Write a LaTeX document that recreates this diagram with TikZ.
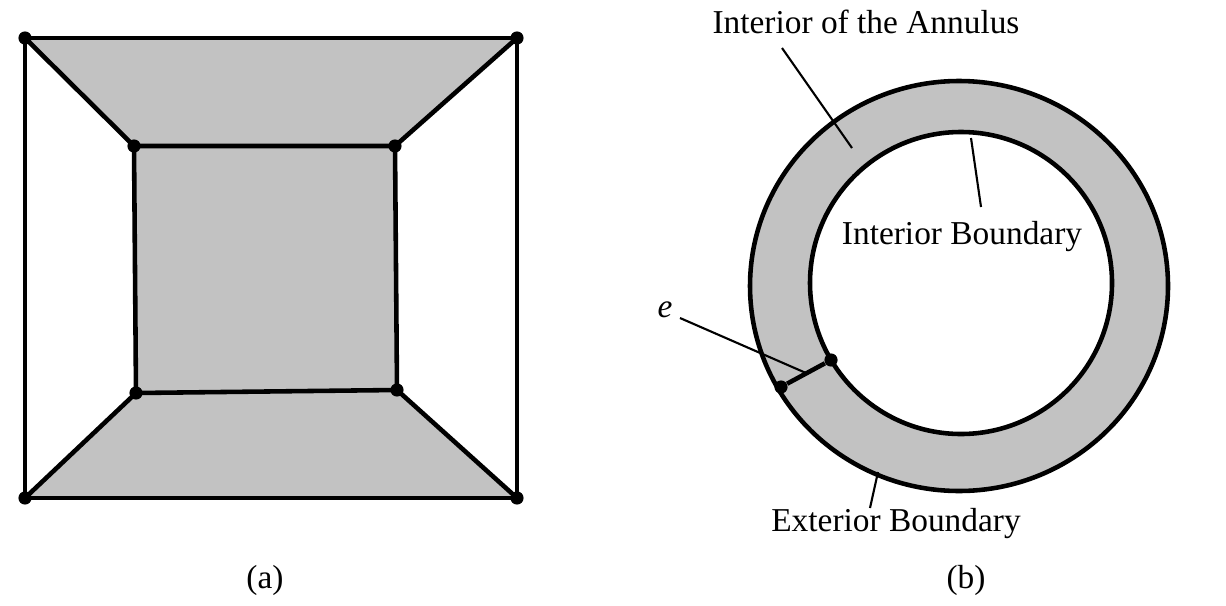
\documentclass[tikz,border=0pt]{standalone}
\usepackage{fontspec}
\setmainfont{Liberation Serif}
\begin{document}
\begin{tikzpicture}[x=0.02cm,y=-0.02cm,
  edge/.style={line width=2.6pt,line join=round},
  thin/.style={line width=1.2pt},
  dot/.style={circle,fill=black,inner sep=0pt,minimum size=7.5pt},
  lbl/.style={font=\fontsize{19}{22}\selectfont,inner sep=1pt}]
\useasboundingbox (0,0) rectangle (1226,605);
\definecolor{gr}{gray}{0.76}
% (a)
\coordinate (A) at (25,38); \coordinate (B) at (517,38);
\coordinate (C) at (517,498); \coordinate (D) at (25,498);
\coordinate (a) at (134,146); \coordinate (b) at (395,146);
\coordinate (c) at (397,390); \coordinate (d) at (136,393);
\fill[gr] (A)--(B)--(b)--(a)--cycle;
\fill[gr] (a)--(b)--(c)--(d)--cycle;
\fill[gr] (d)--(c)--(C)--(D)--cycle;
\draw[edge] (A)--(B)--(C)--(D)--cycle;
\draw[edge] (a)--(b)--(c)--(d)--cycle;
\draw[edge] (A)--(a) (B)--(b) (C)--(c) (D)--(d);
\foreach \p in {A,B,C,D,a,b,c,d} \node[dot] at (\p) {};
\node[lbl] (la) at (265,580) {(a)};
% (b)
\fill[gr,even odd rule] (959,286) ellipse [x radius=209,y radius=205] (961,283) circle [radius=151];
\draw[edge] (959,286) ellipse [x radius=209,y radius=205];
\draw[edge] (961,283) circle [radius=151];
\node[dot] (p) at (781,387) {};
\node[dot] (q) at (831,360) {};
\draw[edge] (p)--(q);
\node[lbl] (e) at (665,310) {\itshape e};
\coordinate (em) at (806,373);
\draw[thin] (680,318)--(em);
\node[lbl] (t1) at (866,22) {Interior of the Annulus};
\draw[thin] (782,48)--(852,148);
\node[lbl] (t2) at (962,237) {Interior Boundary};
\draw[thin] (981,207)--(971,138);
\node[lbl] (t3) at (896,524) {Exterior Boundary};
\draw[thin] (870,508)--(878,472);
\node[lbl] (lb) at (966,580) {(b)};
\end{tikzpicture}
\end{document}
